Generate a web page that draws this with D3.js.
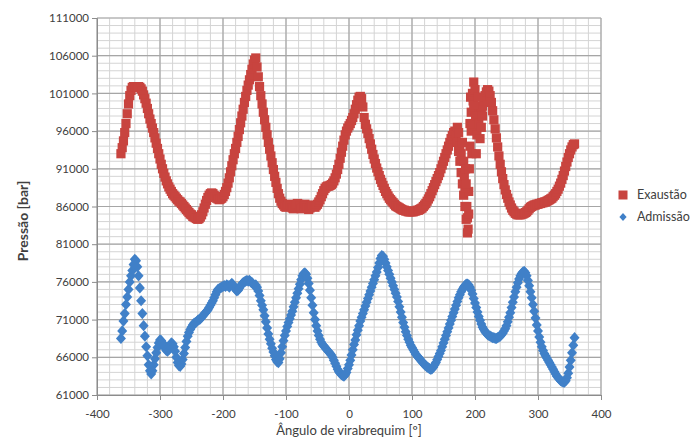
<!DOCTYPE html>
<html>
<head>
<meta charset="utf-8">
<script src="https://cdn.jsdelivr.net/npm/d3@7/dist/d3.min.js"></script>
<style>
  body { margin: 0; background: #fff; }
  text { font-family: Lato, "Open Sans", sans-serif; fill: #404040; }
</style>
</head>
<body>
<svg id="chart" width="699" height="441"></svg>
<script>
// crank angle samples (every 2 degrees, -362 .. 358)
var angles = d3.range(-362, 359, 2);

// Exaustão (red squares), one value per sample angle
var exaustaoP = [
  93000,93800,94700,95800,97000,98300,99600,100700,101400,101800,101900,101900,101900,101800,101900,101800,101600,101300,100800,100300,
  99700,99000,98300,97600,97000,96400,95800,95100,94400,93700,93000,92300,91600,91000,90400,89900,89400,89000,88600,88300,
  88000,87700,87500,87300,87100,86900,86700,86600,86400,86200,86000,85800,85600,85400,85200,85000,84900,84700,84600,84500,
  84400,84300,84400,84600,84900,85300,85800,86300,86800,87200,87500,87700,87800,87700,87500,87300,87100,87000,86900,87000,
  87100,87300,87600,88000,88500,89100,89800,90600,91400,92200,93000,93700,94500,95300,96200,97100,98000,98900,99800,100600,
  101400,102100,102800,103500,104200,104900,105400,105700,104500,103200,101900,100700,99600,98500,97500,96500,95500,94500,93600,92700,
  91800,90900,90000,89200,88400,87700,87100,86700,86400,86200,86000,85900,86100,86300,86200,86000,85800,85700,85900,86200,
  86400,86300,86000,85700,85800,86100,86300,86100,85800,85600,85800,86100,86200,86000,85900,86100,86300,86600,86900,87300,
  87700,88100,88400,88600,88700,88700,88800,88900,89100,89400,89800,90300,90900,91600,92400,93200,94000,94800,95500,96000,
  96400,96700,97000,97400,97800,98300,98900,99500,100100,100500,100600,100300,99200,97800,96900,96300,95700,95000,94300,93600,
  92900,92300,91700,91100,90600,90100,89600,89200,88800,88400,88000,87700,87400,87100,86900,86700,86500,86300,86100,86000,
  85900,85800,85700,85600,85500,85500,85400,85400,85300,85300,85300,85300,85300,85400,85400,85500,85500,85600,85700,85800,
  86000,86200,86400,86700,87000,87300,87700,88100,88500,88900,89300,89700,90100,90500,91000,91500,92000,92500,93000,93500,
  94000,94500,95000,95400,95800,96000,95500,94500,93300,92000,90500,89000,87500,86000,84300,82500,88000,94000,98500,101000,
  102500,99000,96500,97500,98500,99300,99000,99300,100000,100700,101200,101500,101300,100700,99800,98700,97500,96300,95100,93900,
  92700,91600,90600,89700,88900,88200,87600,87100,86600,86200,85800,85500,85300,85100,85000,84900,84900,84900,85000,85000,
  85100,85200,85300,85500,85700,85900,86000,86100,86200,86200,86300,86300,86400,86400,86500,86500,86600,86600,86700,86800,
  86900,87000,87100,87300,87500,87700,88000,88300,88700,89100,89600,90100,90700,91300,91900,92500,93000,93500,93900,94200,
  94300];

// the noisy stretch around 170-212 degrees has several readings per angle
var exaustaoExtraAngle = [172,174,176,178,180,182,183,184,185,186,187,188,189,190,191,192,193,194,195,196,197,198,200,201,202,203,205,206,208,210,212];
var exaustaoExtraP = [96500,95800,94000,93000,94500,92000,90000,88500,91000,89000,86000,84500,83000,85000,91000,97000,100500,96000,93000,97000,
  100000,99500,101500,98000,93000,95500,100500,97000,95000,96500,98000];

// Admissão (blue diamonds)
var admissaoP = [
  68500,69500,70800,71800,73000,74000,75000,76000,76800,77500,78300,79000,78800,78000,76800,75200,73500,71800,70200,68800,
  67400,66200,65000,64200,63800,64200,65000,65800,66600,67300,67900,68300,68200,67900,67600,67200,66900,66800,67000,67500,
  67900,67800,67400,66800,66000,65300,64900,64800,65100,65700,66500,67300,68100,68800,69300,69700,70000,70300,70500,70600,
  70700,70900,71000,71100,71300,71500,71700,71900,72100,72300,72600,72900,73200,73500,73900,74300,74700,75000,75100,75200,
  75300,75400,75500,75400,75600,75500,75300,75600,75800,75600,75300,75000,74800,74900,75200,75500,75700,75900,76000,76100,
  76200,76100,76200,76000,75900,75700,75500,75600,75300,74800,74200,73500,72900,72300,71500,70700,69900,69100,68400,67800,
  67200,66700,66200,65700,65400,65300,65800,66600,67400,68200,68900,69500,70100,70600,71100,71600,72100,72700,73300,73900,
  74500,75100,75700,76300,76800,77100,77200,77000,76500,75800,74900,73900,72900,71900,71000,70200,69500,68900,68400,68000,
  67700,67500,67300,67100,66900,66700,66500,66300,66000,65600,65200,64800,64400,64100,63900,63700,63600,63500,63700,64000,
  64500,65000,65600,66300,67000,67700,68300,69000,69600,70200,70800,71300,71800,72300,72800,73300,73800,74300,74800,75300,
  75800,76300,76800,77300,77900,78500,79100,79500,79400,79000,78500,78000,77500,77000,76500,76000,75500,75000,74500,74000,
  73400,72700,72000,71300,70600,70000,69400,68900,68400,68000,67600,67300,67000,66700,66400,66200,66000,65800,65600,65400,
  65200,65000,64900,64700,64600,64500,64400,64500,64700,65000,65300,65700,66100,66500,66900,67400,67900,68400,68900,69400,
  69900,70400,70900,71400,71900,72400,72900,73400,73900,74300,74700,75000,75300,75500,75700,75700,75600,75300,74900,74400,
  73800,73200,72600,72000,71400,70900,70400,70000,69700,69400,69200,69000,68900,68800,68700,68600,68600,68500,68500,68600,
  68700,68800,69000,69200,69500,69800,70200,70700,71300,71900,72600,73300,74000,74700,75300,75900,76400,76800,77100,77300,
  77400,77200,76800,76200,75500,74700,73900,73000,72100,71200,70300,69500,68700,68000,67400,66900,66500,66200,65900,65600,
  65300,65000,64700,64400,64100,63800,63500,63300,63100,62900,62800,62700,62700,62900,63300,63900,64700,65600,66600,67600,
  68600];

var xTicks = d3.range(-400, 401, 100);
var yTicks = d3.range(61000, 111001, 5000);
var seriesNames = ["Exaustão", "Admissão"];

var red = "#c8443f", blue = "#4080c8";

var svg = d3.select("#chart"),
    margin = {left: 97, top: 18, right: 98, bottom: 46},
    width = +svg.attr("width") - margin.left - margin.right,
    height = +svg.attr("height") - margin.top - margin.bottom;

var x = d3.scaleLinear().domain([-400, 400]).range([0, width]);
var y = d3.scaleLinear().domain([61000, 111000]).range([height, 0]);

var g = svg.append("g").attr("transform", "translate(" + margin.left + "," + margin.top + ")");

// minor grid (20 deg / 1000) then major grid on top
function gridLines(parent, xs, ys, color, w) {
  parent.selectAll(null).data(xs).enter().append("line")
    .attr("x1", function(d) { return x(d); }).attr("x2", function(d) { return x(d); })
    .attr("y1", 0).attr("y2", height)
    .attr("stroke", color).attr("stroke-width", w);
  parent.selectAll(null).data(ys).enter().append("line")
    .attr("x1", 0).attr("x2", width)
    .attr("y1", function(d) { return y(d); }).attr("y2", function(d) { return y(d); })
    .attr("stroke", color).attr("stroke-width", w);
}
gridLines(g.append("g"), d3.range(-400, 401, 20), d3.range(61000, 111001, 1000), "#d4d4d4", 1);
gridLines(g.append("g"), xTicks, yTicks, "#a6a6a6", 1.2);

// axes
var xAxis = g.append("g").attr("transform", "translate(0," + height + ")")
  .call(d3.axisBottom(x).tickValues(xTicks).tickSize(5).tickPadding(10).tickFormat(function(d) { return String(d); }));
var yAxis = g.append("g")
  .call(d3.axisLeft(y).tickValues(yTicks).tickSize(5).tickPadding(3).tickFormat(function(d) { return String(d); }));
[xAxis, yAxis].forEach(function(a) {
  a.select(".domain").attr("stroke", "#8c8c8c");
  a.selectAll(".tick line").attr("stroke", "#8c8c8c");
  a.selectAll("text").attr("font-family", "Lato, sans-serif").attr("font-size", 11.5).attr("fill", "#404040");
});

// markers
var sq = 9.2;
var redPts = angles.map(function(a, i) { return [a, exaustaoP[i]]; })
  .concat(exaustaoExtraAngle.map(function(a, i) { return [a, exaustaoExtraP[i]]; }));

g.append("g").selectAll("rect").data(redPts).enter().append("rect")
  .attr("x", function(d) { return x(d[0]) - sq / 2; })
  .attr("y", function(d) { return y(d[1]) - sq / 2; })
  .attr("width", sq).attr("height", sq)
  .attr("fill", red);

var diamond = "M0,-5.6L5,0L0,5.6L-5,0Z";
g.append("g").selectAll("path").data(angles).enter().append("path")
  .attr("transform", function(d, i) { return "translate(" + x(d) + "," + y(admissaoP[i]) + ")"; })
  .attr("d", diamond)
  .attr("fill", blue);

// axis titles
svg.append("text")
  .attr("x", margin.left + width / 2).attr("y", 435)
  .attr("text-anchor", "middle").attr("font-size", 13)
  .text("Ângulo de virabrequim [º]");

svg.append("text")
  .attr("transform", "translate(24,221) rotate(-90)")
  .attr("text-anchor", "middle").attr("dominant-baseline", "middle")
  .attr("font-size", 14).attr("font-weight", "bold")
  .text("Pressão [bar]");

// legend
var legend = svg.append("g").attr("transform", "translate(623,195)");
legend.append("rect").attr("x", -4.5).attr("y", -4.5).attr("width", 9).attr("height", 9).attr("fill", red);
legend.append("path").attr("transform", "translate(0,22)").attr("d", "M0,-4L3.6,0L0,4L-3.6,0Z").attr("fill", blue);
legend.selectAll("text").data(seriesNames).enter().append("text")
  .attr("x", 14).attr("y", function(d, i) { return i * 22; })
  .attr("dy", "0.35em").attr("font-size", 12.5)
  .text(function(d) { return d; });
</script>
</body>
</html>
